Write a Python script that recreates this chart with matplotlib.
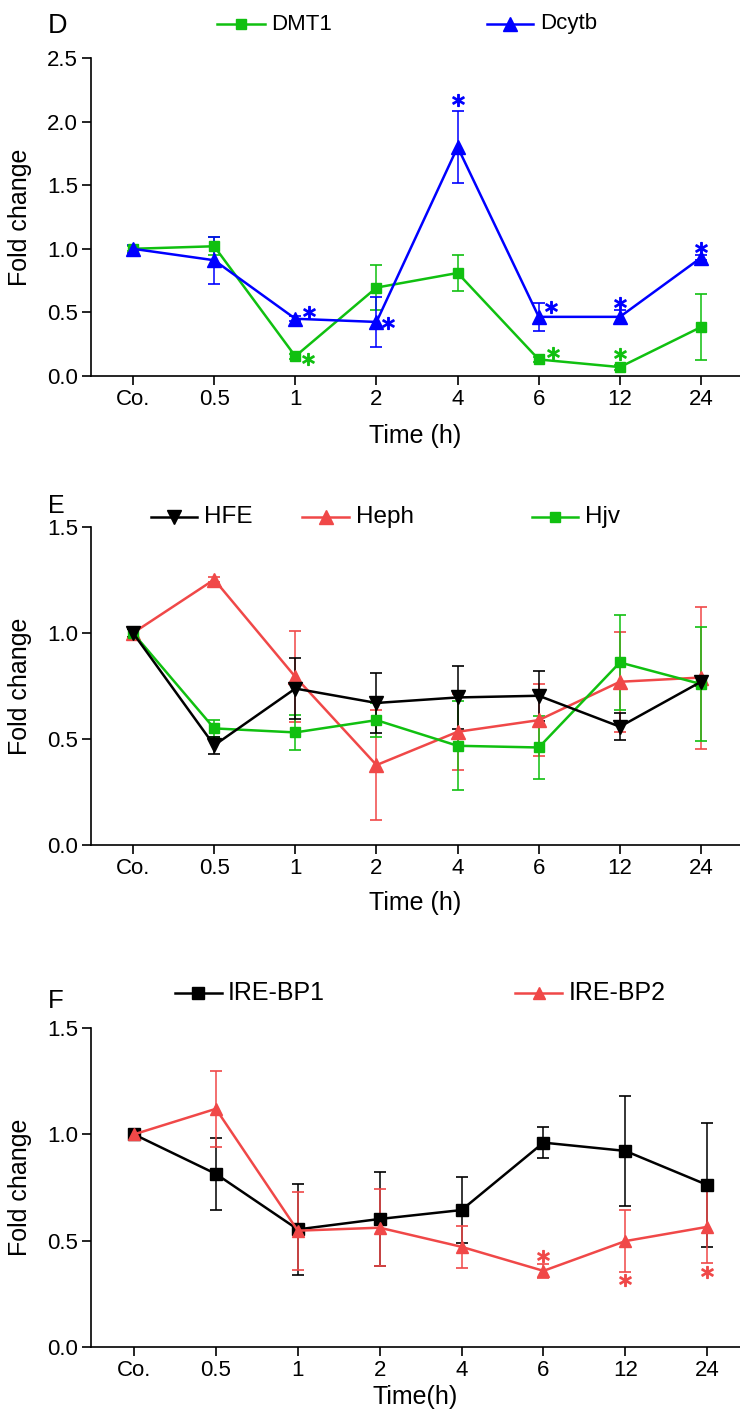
import matplotlib
matplotlib.use("Agg")
import matplotlib.pyplot as plt
from matplotlib.lines import Line2D
import numpy as np

plt.rcParams['font.family'] = ['Liberation Sans', 'DejaVu Sans']

# ---------------- data ----------------
time_labels = ["Co.", "0.5", "1", "2", "4", "6", "12", "24"]

# Panel D
dmt1 = [1.00, 1.02, 0.155, 0.695, 0.81, 0.13, 0.07, 0.385]
dmt1_err = [0.02, 0.07, 0.02, 0.18, 0.14, 0.02, 0.02, 0.26]
dcytb = [1.00, 0.91, 0.45, 0.425, 1.80, 0.465, 0.465, 0.93]
dcytb_err = [0.03, 0.185, 0.02, 0.20, 0.28, 0.11, 0.05, 0.02]
dcytb_star_x = [2.17, 3.14, 4.0, 5.15, 6.0, 7.0]
dcytb_star_y = [0.50, 0.42, 2.17, 0.54, 0.57, 1.01]
dmt1_star_x = [2.16, 5.17, 6.0]
dmt1_star_y = [0.13, 0.18, 0.17]

# Panel E
hfe = [1.00, 0.47, 0.738, 0.67, 0.696, 0.704, 0.558, 0.77]
hfe_err = [0.02, 0.04, 0.145, 0.14, 0.15, 0.117, 0.065, 0.02]
heph = [1.00, 1.252, 0.793, 0.377, 0.534, 0.589, 0.77, 0.79]
heph_err = [0.02, 0.01, 0.215, 0.26, 0.18, 0.17, 0.235, 0.335]
hjv = [1.00, 0.55, 0.531, 0.589, 0.468, 0.46, 0.861, 0.759]
hjv_err = [0.02, 0.04, 0.083, 0.08, 0.21, 0.15, 0.225, 0.27]

# Panel F
irebp1 = [1.00, 0.814, 0.553, 0.602, 0.644, 0.961, 0.922, 0.762]
irebp1_err = [0.02, 0.17, 0.215, 0.22, 0.155, 0.073, 0.26, 0.29]
irebp2 = [1.00, 1.12, 0.547, 0.561, 0.471, 0.358, 0.498, 0.565]
irebp2_err = [0.02, 0.178, 0.183, 0.18, 0.10, 0.033, 0.145, 0.17]
irebp2_star_x = [5.0, 6.0, 7.0]
irebp2_star_y = [0.427, 0.314, 0.353]

GREEN = '#10c010'
BLUE = '#0000ff'
RED = '#f04848'
BLACK = '#000000'

W, H = 740, 1412
fig = plt.figure(figsize=(W / 100, H / 100), dpi=100)


def fx(x):
    return x / W


def fy(y):
    return 1 - y / H


def make_axes(left, right, top, bottom):
    return fig.add_axes([fx(left), fy(bottom), fx(right) - fx(left), (bottom - top) / H])


def style_axes(ax, ymax, yticks, xlim, xlabel, ylabel_px_x, xlabel_px_y, top, bottom, left):
    ax.set_ylim(0, ymax)
    ax.set_xlim(*xlim)
    ax.set_yticks(yticks)
    ax.set_yticklabels([f"{t:.1f}" for t in yticks])
    ax.set_xticks(range(len(time_labels)))
    ax.set_xticklabels(time_labels)
    for s in ['top', 'right']:
        ax.spines[s].set_visible(False)
    for s in ['left', 'bottom']:
        ax.spines[s].set_linewidth(1.2)
    ax.tick_params(axis='both', length=6.5, width=1.2, labelsize=16, pad=3)
    ax.set_ylabel("Fold change", fontsize=18)
    ax.set_xlabel(xlabel, fontsize=18)
    hpx = bottom - top
    wpx = 740 - left
    ax.yaxis.set_label_coords((ylabel_px_x - left) / wpx, 0.5)
    ax.xaxis.set_label_coords(0.5, -(xlabel_px_y - bottom) / hpx)
    ax.xaxis.label.set_va('center')
    ax.yaxis.label.set_va('center')


def series(ax, y, err, color, marker, ms, lw=1.8):
    x = np.arange(len(y))
    ax.errorbar(x, y, yerr=err, color=color, marker=marker, markersize=ms,
                linewidth=lw, elinewidth=1.1, capsize=4.5, capthick=1.2, zorder=3)


def stars(ax, xs, ys, color):
    ax.plot(xs, ys, linestyle='none', marker='$*$', markersize=8.5,
            color=color, zorder=4)


def legend_item(x0, x1, xtext, y, color, marker, ms, label, fs):
    fig.add_artist(Line2D([fx(x0), fx(x1)], [fy(y), fy(y)], color=color, lw=1.8,
                          transform=fig.transFigure))
    fig.add_artist(Line2D([fx((x0 + x1) / 2)], [fy(y)], color=color, marker=marker,
                          markersize=ms, transform=fig.transFigure))
    fig.text(fx(xtext), fy(y), label, fontsize=fs, va='center', ha='left')


# ---------------- Panel D ----------------
axD = make_axes(91, 740, 58, 376)
series(axD, dmt1, dmt1_err, GREEN, 's', 7.5)
series(axD, dcytb, dcytb_err, BLUE, '^', 9.5)
stars(axD, dcytb_star_x, dcytb_star_y, BLUE)
stars(axD, dmt1_star_x, dmt1_star_y, GREEN)
style_axes(axD, 2.5, [0.0, 0.5, 1.0, 1.5, 2.0, 2.5], (-0.518, 7.48), "Time (h)",
           20, 436, 58, 376, 91)
fig.text(fx(48), fy(26), "D", fontsize=19.5, va='center', ha='left')
legend_item(217, 265, 271, 24, GREEN, 's', 7.5, "DMT1", 16)
legend_item(487, 533, 540, 24, BLUE, '^', 9.5, "Dcytb", 16)

# ---------------- Panel E ----------------
axE = make_axes(91, 740, 527, 845)
series(axE, heph, heph_err, RED, '^', 9.5)
series(axE, hjv, hjv_err, GREEN, 's', 7.5)
series(axE, hfe, hfe_err, BLACK, 'v', 9.5)
style_axes(axE, 1.5, [0.0, 0.5, 1.0, 1.5], (-0.518, 7.48), "Time (h)",
           20, 903, 527, 845, 91)
fig.text(fx(48), fy(506), "E", fontsize=18, va='center', ha='left')
legend_item(151, 197, 204, 517, BLACK, 'v', 9.5, "HFE", 17.5)
legend_item(302, 349, 356, 517, RED, '^', 9.5, "Heph", 17.5)
legend_item(532, 578, 585, 517, GREEN, 's', 7.5, "Hjv", 17.5)

# ---------------- Panel F ----------------
axF = make_axes(91, 740, 1028, 1347)
series(axF, irebp1, irebp1_err, BLACK, 's', 8)
series(axF, irebp2, irebp2_err, RED, '^', 8)
stars(axF, irebp2_star_x, irebp2_star_y, RED)
style_axes(axF, 1.5, [0.0, 0.5, 1.0, 1.5], (-0.525, 7.40), "Time(h)",
           20, 1397, 1028, 1347, 91)
fig.text(fx(48), fy(1001), "F", fontsize=18.5, va='center', ha='left')
legend_item(175, 222, 228, 993, BLACK, 's', 8, "IRE-BP1", 18)
legend_item(515, 562, 569, 993, RED, '^', 8, "IRE-BP2", 18)

fig.savefig("out.png", dpi=100)
